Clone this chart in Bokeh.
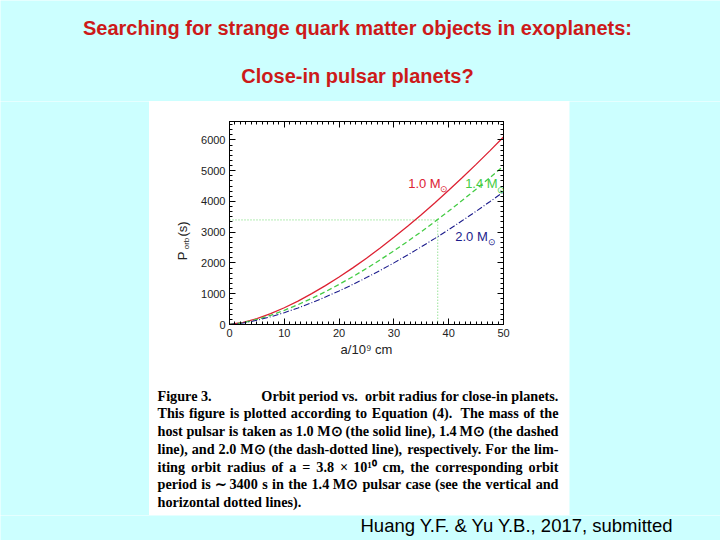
import numpy as np
from bokeh.plotting import figure
from bokeh.layouts import column, row
from bokeh.models import Label, LinearAxis, FixedTicker, Range1d
from bokeh.core.properties import value
from bokeh.embed import file_html
from bokeh.resources import INLINE

# ---- data ----
a_vals = [0, 2.5, 5, 7.5, 10, 12.5, 15, 17.5, 20, 22.5, 25, 27.5, 30, 32.5, 35,
          37.5, 40, 42.5, 45, 47.5, 50]
p_10 = [0, 68, 193, 354, 545, 762, 1002, 1263, 1543, 1841, 2156, 2487, 2834,
        3196, 3571, 3961, 4363, 4779, 5206, 5646, 6098]
p_14 = [0, 57, 163, 299, 461, 644, 847, 1067, 1304, 1556, 1822, 2102, 2395,
        2701, 3018, 3348, 3687, 4039, 4400, 4772, 5154]
p_20 = [0, 48, 136, 250, 385, 539, 709, 893, 1091, 1302, 1525, 1759, 2004,
        2260, 2525, 2801, 3085, 3379, 3681, 3992, 4312]
dot_x = [0, 38, 38]
dot_y = [3400, 3400, 0]
x_ticks = [0, 10, 20, 30, 40, 50]
y_ticks = [0, 1000, 2000, 3000, 4000, 5000, 6000]

title1 = "Searching for strange quark matter objects in exoplanets:"
title2 = "Close-in pulsar planets?"
citation = "Huang Y.F. & Yu Y.B., 2017, submitted"
cap_head = "Figure 3."
caption = [
    "Orbit period vs.\u00a0 orbit radius for close-in planets.",
    "This figure is plotted according to Equation (4).\u00a0 The mass of the",
    "host pulsar is taken as 1.0 M\u2299 (the solid line), 1.4 M\u2299 (the dashed",
    "line), and 2.0 M\u2299 (the dash-dotted line), respectively. For the lim-",
    "iting orbit radius of a = 3.8 \u00d7 10\u00b9\u2070 cm, the corresponding orbit",
    "period is \u223c 3400 s in the 1.4 M\u2299 pulsar case (see the vertical and",
    "horizontal dotted lines).",
]

BG = "#ccffff"
RED = "#dd2233"
GREEN = "#44cc44"
BLUE = "#1c1c8c"
TXT = "#222222"


def blank(w, h, color, yr=None):
    """A figure with pixel-like coordinates (origin top-left) for text/fill."""
    f = figure(width=w, height=h, x_range=Range1d(0, w),
               y_range=yr if yr is not None else Range1d(h, 0),
               output_backend="svg", toolbar_location=None, min_border=0,
               background_fill_color=color, border_fill_color=color,
               outline_line_color=None)
    f.axis.visible = False
    f.grid.visible = False
    return f


# ---------------- main chart ----------------
p = figure(width=375, height=270, x_range=Range1d(0, 50), y_range=Range1d(0, 6600),
           output_backend="svg", toolbar_location=None,
           min_border_left=35, min_border_right=66, min_border_top=20,
           min_border_bottom=47, background_fill_color="white",
           border_fill_color="white", outline_line_color="black",
           outline_line_width=1)
p.grid.visible = False

x_minor = list(range(0, 51))
y_minor = [i * 1000 / 6 for i in range(0, 40)]
xt = FixedTicker(ticks=x_ticks, minor_ticks=x_minor)
yt = FixedTicker(ticks=y_ticks, minor_ticks=y_minor)

p.add_layout(LinearAxis(), "above")
p.add_layout(LinearAxis(), "right")
for ax in p.below + p.above:
    ax.ticker = xt
for ax in p.left + p.right:
    ax.ticker = yt
for ax in p.below + p.left + p.above + p.right:
    ax.axis_line_color = "black"
    ax.major_tick_in = 6
    ax.major_tick_out = 0
    ax.minor_tick_in = 3
    ax.minor_tick_out = 0
    ax.major_tick_line_color = "black"
    ax.minor_tick_line_color = "black"
    ax.major_label_text_font = "Liberation Sans"
    ax.major_label_text_font_size = "11px"
    ax.major_label_text_color = TXT
    ax.major_label_standoff = 4
for ax in p.above + p.right:
    ax.major_label_text_font_size = "0px"
    ax.major_label_text_color = None
    ax.major_label_standoff = 0

xax = p.below[0]
xax.axis_label = "a/10\u2079 cm"
xax.axis_label_text_font = "Liberation Sans"
xax.axis_label_text_font_size = "13px"
xax.axis_label_text_font_style = "normal"
xax.axis_label_text_color = TXT
xax.axis_label_standoff = 2

p.line(dot_x, dot_y, line_color=GREEN, line_dash="1 2", line_width=1, line_alpha=0.8)
p.line(a_vals, p_10, line_color=RED, line_width=1.3)
p.line(a_vals, p_14, line_color=GREEN, line_width=1.3, line_dash="5 3")
p.line(a_vals, p_20, line_color=BLUE, line_width=1.1, line_dash="6 2 1 2")


def lab(x, y, text, size, color):
    p.add_layout(Label(x=x, y=y, text=text, text_font="Liberation Sans",
                       text_font_size=size, text_color=color,
                       text_align="left", text_baseline="middle"))


lab(32.6, 4580, "1.0 M", "13px", RED)
lab(38.5, 4400, "\u2299", "9px", RED)
lab(43.0, 4580, "1.4 M", "13px", GREEN)
lab(48.8, 4380, "\u2299", "9px", GREEN)
lab(41.2, 2860, "2.0 M", "13px", BLUE)
lab(47.2, 2680, "\u2299", "9px", BLUE)

# ---------------- y-axis title ----------------
# this figure's frame is aligned with the chart frame (page y 121..324)
ylab = blank(45, 270, "white", yr=Range1d(324, 121))
ylab.text(x=[32.7, 36.8, 32.7], y=[255.5, 243, 228.5], text=["P", "orb", "(s)"],
          angle=np.pi / 2, text_font=value("Liberation Sans"),
          text_font_size=["13px", "8px", "13px"], text_color=TXT,
          text_align="center", text_baseline="middle")

# ---------------- caption (justified, word by word) ----------------
TB = {" ": 250, "\u00a0": 250, ".": 250, ",": 250, "(": 333, ")": 333,
      "-": 333, "=": 570, "\u00d7": 570, "\u223c": 700, "\u2299": 780,
      "\u00b9": 300, "\u2070": 300, ":": 333}
TB.update({c: 500 for c in "0123456789"})
TB.update(dict(zip("abcdefghijklmnopqrstuvwxyz",
                   [500, 556, 444, 556, 444, 333, 500, 556, 278, 333, 556, 278,
                    833, 556, 500, 556, 556, 444, 389, 333, 556, 500, 722, 500,
                    500, 444])))
TB.update(dict(zip("ABCDEFGHIJKLMNOPQRSTUVWXYZ",
                   [722, 667, 722, 722, 667, 611, 778, 778, 389, 500, 778, 667,
                    944, 722, 778, 611, 778, 722, 556, 667, 722, 722, 1000, 722,
                    722, 667])))
CAP_FS = 14.2
CAP_L, CAP_R = 8, 409


def tw(s):
    return sum(TB.get(c, 500) for c in s) * CAP_FS / 1000.0


cap = blank(420, 144, "white")
cap_y = [24, 41.7, 59.7, 77.7, 95, 112, 130]
wx, wy, wt, ax_ = [], [], [], []
for i, (line, yy) in enumerate(zip(caption, cap_y)):
    if i == 0:
        wx += [CAP_L, CAP_R]; wy += [yy, yy]; wt += [cap_head, line]
        ax_ += ["left", "right"]
        continue
    if i == len(caption) - 1:
        wx.append(CAP_L); wy.append(yy); wt.append(line); ax_.append("left")
        continue
    words = line.split(" ")
    widths = [tw(w) for w in words]
    gap = max((CAP_R - CAP_L - sum(widths)) / (len(words) - 1), 2.0)
    half = len(words) // 2
    x = CAP_L
    for w, ww in zip(words[:half], widths[:half]):
        wx.append(x); wy.append(yy); wt.append(w); ax_.append("left")
        x += ww + gap
    x = CAP_R
    for w, ww in zip(reversed(words[half:]), reversed(widths[half:])):
        wx.append(x); wy.append(yy); wt.append(w); ax_.append("right")
        x -= ww + gap
cap.text(x=wx, y=wy, text=wt, text_align=ax_,
         text_font=value("Liberation Serif"), text_font_style="bold",
         text_font_size=f"{CAP_FS}px", text_color="black",
         text_baseline="middle")

# ---------------- slide titles ----------------
top = blank(720, 101, BG)
top.text(x=[357, 357], y=[27, 75], text=[title1, title2],
         text_font=value("Liberation Sans"), text_font_style="bold",
         text_font_size="20px", text_color="#cc1a1a",
         text_align="center", text_baseline="middle")

bottom = blank(720, 25, BG)
bottom.text(x=[673], y=[10], text=[citation], text_font=value("Liberation Sans"),
            text_font_size="18.5px", text_color="black",
            text_align="right", text_baseline="middle")

left = blank(149, 414, BG)
right = blank(151, 414, BG)

panel = column(row(ylab, p, spacing=0), cap, spacing=0)
layout = column(top, row(left, panel, right, spacing=0), bottom, spacing=0)

open("out.html", "w").write(file_html(layout, INLINE))
